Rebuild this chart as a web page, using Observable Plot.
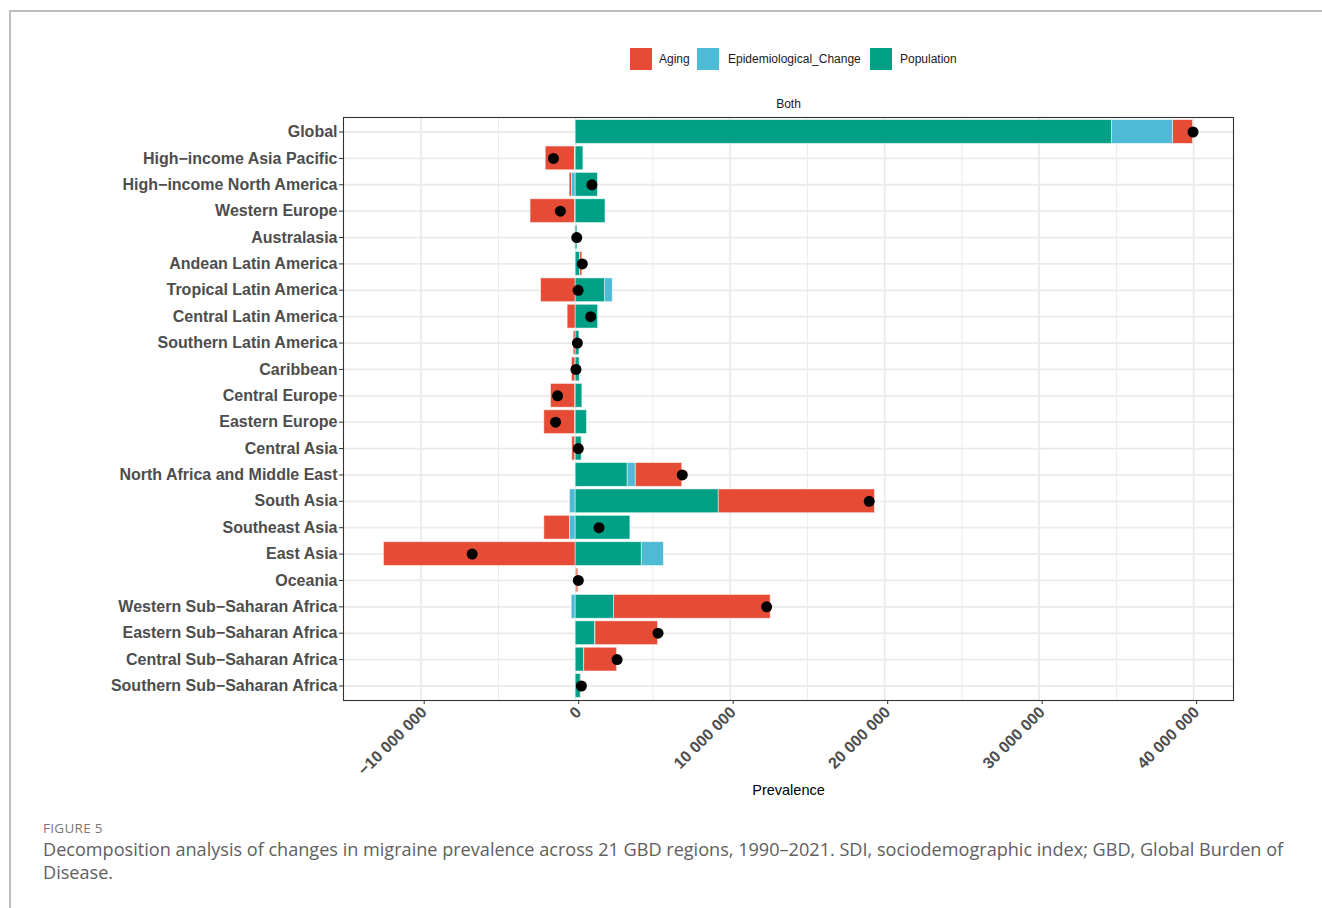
<!DOCTYPE html>
<html>
<head>
<meta charset="utf-8">
<script src="https://cdn.jsdelivr.net/npm/d3@7"></script>
<script src="https://cdn.jsdelivr.net/npm/@observablehq/plot@0.6"></script>
<style>
  html, body { margin: 0; padding: 0; background: #fff; }
  #page {
    position: relative; width: 1322px; height: 908px; overflow: hidden;
    font-family: "Liberation Sans", Arial, sans-serif; background: #fff;
  }
  #frame-top { position: absolute; left: 9px; top: 10px; width: 1313px; height: 2px; background: #bdbdbd; z-index: 2; }
  #frame-left { position: absolute; left: 9px; top: 10px; width: 2px; height: 898px; background: #bdbdbd; z-index: 2; }
  #legend { position: absolute; left: 0; top: 48px; width: 1322px; height: 22px; font-size: 12px; color: #1a1a1a; }
  #legend .key { position: absolute; top: 0; width: 22px; height: 22px; }
  #legend .lab { position: absolute; top: 4px; line-height: 14px; white-space: nowrap; }
  #chart { position: absolute; left: 0; top: 90px; }
  #fig-label { position: absolute; left: 43px; top: 819px; font-family: "Open Sans", "Noto Sans", sans-serif; font-size: 13.5px; color: #777; letter-spacing: 0.3px; }
  #caption { position: absolute; left: 43px; top: 838px; font-family: "Open Sans", "Noto Sans", sans-serif; font-size: 18.1px; line-height: 23px; color: #606060; white-space: nowrap; }
</style>
</head>
<body>
<div id="page">
  <div id="frame-top"></div>
  <div id="frame-left"></div>
  <div id="legend"></div>
  <div id="chart"></div>
  <div id="fig-label">FIGURE 5</div>
  <div id="caption">Decomposition analysis of changes in migraine prevalence across 21 GBD regions, 1990–2021. SDI, sociodemographic index; GBD, Global Burden of<br>Disease.</div>
</div>
<script>
// GBD regions, top to bottom
const regions = [
  "Global",
  "High\u2212income Asia Pacific",
  "High\u2212income North America",
  "Western Europe",
  "Australasia",
  "Andean Latin America",
  "Tropical Latin America",
  "Central Latin America",
  "Southern Latin America",
  "Caribbean",
  "Central Europe",
  "Eastern Europe",
  "Central Asia",
  "North Africa and Middle East",
  "South Asia",
  "Southeast Asia",
  "East Asia",
  "Oceania",
  "Western Sub\u2212Saharan Africa",
  "Eastern Sub\u2212Saharan Africa",
  "Central Sub\u2212Saharan Africa",
  "Southern Sub\u2212Saharan Africa"
];

// Change in prevalent cases, 1990-2021, attributed to each driver
const population = [
  34710000, 500000, 1440000, 1930000, 110000, 280000, 1900000, 1450000, 240000, 260000,
  430000, 730000, 390000, 3360000, 9250000, 3540000, 4270000, 50000, 2480000, 1250000,
  540000, 320000
];
const epidemiologicalChange = [
  3960000, -50000, -240000, -30000, -10000, 10000, 500000, 40000, 0, -10000,
  -20000, -30000, -20000, 520000, -370000, -370000, 1440000, 0, -260000, 20000,
  10000, 0
];
const aging = [
  1290000, -1890000, -150000, -2890000, -30000, 140000, -2240000, -520000, -130000, -230000,
  -1580000, -2000000, -200000, 3020000, 10120000, -1660000, -12410000, 120000, 10140000, 4060000,
  2130000, 50000
];

const components = ["Aging", "Epidemiological_Change", "Population"];
const componentColors = ["#E64B35", "#4DBBD5", "#00A087"];
const stackOrder = ["Population", "Epidemiological_Change", "Aging"];

const xTicks = [-10000000, 0, 10000000, 20000000, 30000000, 40000000];
const xMinorTicks = [-5000000, 5000000, 15000000, 25000000, 35000000];

// long table for the stacked bars
const series = {Aging: aging, Epidemiological_Change: epidemiologicalChange, Population: population};
const rows = [];
regions.forEach((r, i) => {
  for (const c of components) rows.push({region: r, component: c, value: series[c][i]});
});

// net change per region (the dots)
const totals = regions.map((r, i) => ({region: r, total: population[i] + epidemiologicalChange[i] + aging[i]}));

// x extent of the stacked bars, padded 5% on each side
const negExt = d3.min(regions, (r, i) => d3.sum(components, c => Math.min(0, series[c][i])));
const posExt = d3.max(regions, (r, i) => d3.sum(components, c => Math.max(0, series[c][i])));
const pad = (posExt - negExt) * 0.05;

const fmt = d3.formatLocale({decimal: ".", thousands: " ", grouping: [3], currency: ["", ""], minus: "\u2212"}).format(",d");

const chart = Plot.plot({
  width: 1322,
  height: 710,
  marginTop: 27,
  marginBottom: 100,
  marginLeft: 343,
  marginRight: 89,
  style: {fontFamily: "'Liberation Sans', Arial, sans-serif", background: "none", overflow: "visible"},
  x: {domain: [negExt - pad, posExt + pad]},
  y: {domain: regions, paddingInner: 0.1, paddingOuter: 0.1, round: false},
  color: {domain: components, range: componentColors},
  marks: [
    Plot.ruleX(xMinorTicks, {stroke: "#EBEBEB", strokeWidth: 1}),
    Plot.ruleX(xTicks, {stroke: "#EBEBEB", strokeWidth: 1.8}),
    Plot.gridY({stroke: "#EBEBEB", strokeOpacity: 1, strokeWidth: 1.8}),
    Plot.barX(rows, Plot.stackX({
      x: "value", y: "region", fill: "component", z: "component", order: stackOrder,
      stroke: "#fff", strokeWidth: 0.8, strokeOpacity: 0.6
    })),
    Plot.dot(totals, {x: "total", y: "region", r: 5.5, fill: "#000"}),
    Plot.frame({stroke: "#333", strokeWidth: 1.1}),
    Plot.axisY({
      tickSize: 4, tickPadding: 2, fontSize: 16, fontWeight: "bold",
      fill: "#4D4D4D", stroke: "#333", label: null
    }),
    Plot.axisX(xTicks, {
      tickSize: 4, tickPadding: 5, tickRotate: -45, tickFormat: fmt, dx: 3,
      fontSize: 16, fontWeight: "bold", fill: "#4D4D4D", stroke: "#333", label: null
    }),
    Plot.text(["Both"], {frameAnchor: "top", lineAnchor: "middle", dy: -13, fontSize: 12, fill: "#1a1a1a", text: d => d}),
    Plot.text(["Prevalence"], {frameAnchor: "bottom", lineAnchor: "middle", dy: 90, fontSize: 14.5, fill: "#000", text: d => d})
  ]
});
document.getElementById("chart").appendChild(chart);

// legend row above the panel
const legend = d3.select("#legend");
const keyX = [630, 697, 870];
const labX = [659, 728, 900];
components.forEach((c, i) => {
  legend.append("div").attr("class", "key").style("left", keyX[i] + "px").style("background", componentColors[i]);
  legend.append("div").attr("class", "lab").style("left", labX[i] + "px").text(c);
});
</script>
</body>
</html>
